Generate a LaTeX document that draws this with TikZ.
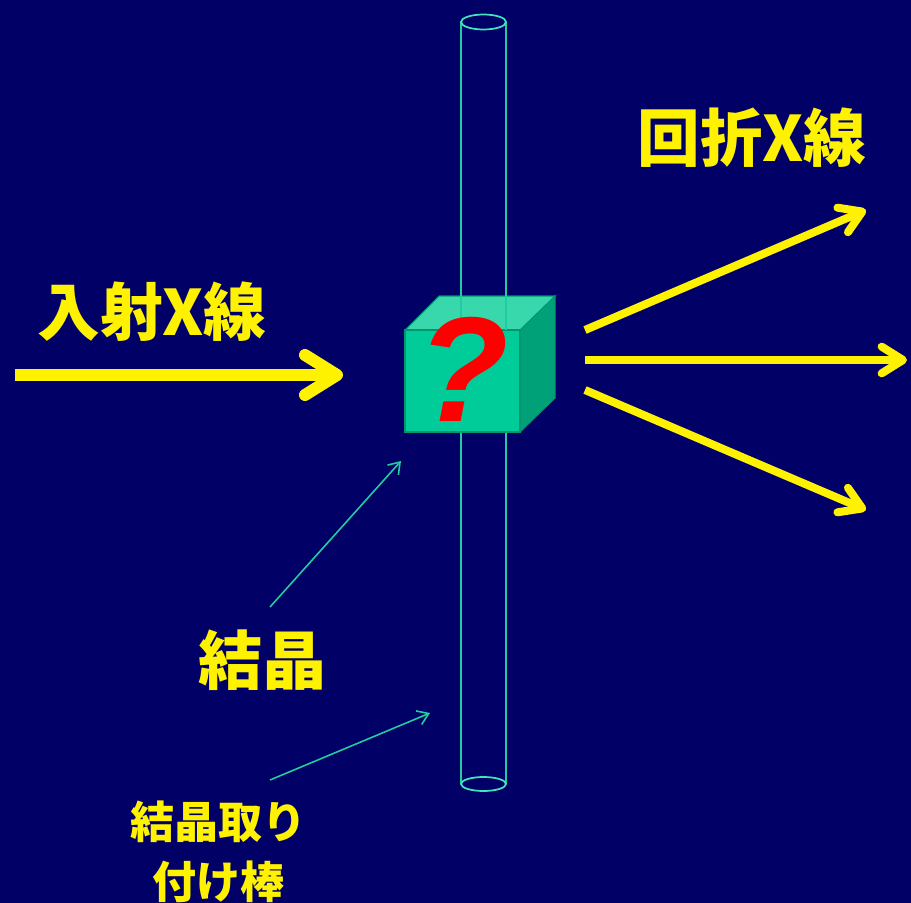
\documentclass[tikz,border=0pt]{standalone}
\usepackage{fontspec}
\setmainfont{Liberation Sans}
\newfontfamily\jpfont{Noto Sans CJK JP}
\usepackage{xcolor}
\usetikzlibrary{arrows.meta}

\definecolor{navy}{RGB}{0,0,102}
\definecolor{rodline}{RGB}{32,204,160}
\definecolor{rodrim}{RGB}{64,228,190}
\definecolor{cubefront}{RGB}{0,204,153}
\definecolor{cubetop}{RGB}{56,216,172}
\definecolor{cubeside}{RGB}{0,160,120}
\definecolor{cubeedge}{RGB}{0,150,112}

\begin{document}
\begin{tikzpicture}[
    x=0.75pt, y=-0.75pt,
    big/.style={text=yellow, font=\jpfont\bfseries\fontsize{47}{50}\selectfont, inner sep=0pt},
    small/.style={text=yellow, font=\jpfont\bfseries\fontsize{33}{45}\selectfont, inner sep=0pt, align=center},
    beam/.style={yellow, line width=9pt, -{Straight Barb[length=24pt, width=30pt, round]}},
    diff/.style={yellow, line width=6pt, -{Straight Barb[length=16pt, width=20pt, round]}},
    pointer/.style={rodline, line width=1.2pt, -{Straight Barb[length=8pt, width=11pt]}},
    rod/.style={rodline, line width=1.1pt},
    rim/.style={rodrim, line width=1.3pt}
]
    \useasboundingbox (0,0) rectangle (911,903);
    \fill[navy] (0,0) rectangle (911,903);

    % mounting rod, lower part
    \draw[rod] (461,432) -- (461,784);
    \draw[rod] (506,432) -- (506,784);
    \draw[rim] (483.5,784) ellipse [x radius=22.5, y radius=7];

    % crystal
    \filldraw[fill=cubeside, draw=cubeedge, line width=0.8pt] (520,330) -- (555,296) -- (555,398) -- (520,432) -- cycle;
    \filldraw[fill=cubetop, draw=cubeedge, line width=0.8pt] (405,330) -- (439,296) -- (555,296) -- (520,330) -- cycle;
    \filldraw[fill=cubefront, draw=cubeedge, line width=0.8pt] (405,330) rectangle (520,432);

    % mounting rod, upper part
    \draw[rod] (461,22) -- (461,330);
    \draw[rod] (506,22) -- (506,330);
    \draw[rim] (483.5,22) ellipse [x radius=22.5, y radius=7.5];

    \node[text=red, font=\bfseries\itshape\fontsize{112}{112}\selectfont, inner sep=0pt] (qmark) at (463,369) {?};

    % beams
    \node[big] (inlabel) at (152,312) {入射X線};
    \node[big] (outlabel) at (752,138) {回折X線};
    \coordinate (beamin) at (15,375);
    \coordinate (beamhit) at (343,375);
    \draw[beam] (beamin) -- (beamhit);
    \foreach \i/\sy/\ex/\ey in {1/330/866/210, 2/360/907/360, 3/390/866/510} {
        \coordinate (dsrc\i) at (585,\sy);
        \coordinate (dend\i) at (\ex,\ey);
        \draw[diff] (dsrc\i) -- (dend\i);
    }

    % labels
    \node[big, font=\jpfont\bfseries\fontsize{48}{50}\selectfont] (xtal) at (262,660) {結晶};
    \node[small] (mount) at (218,852) {結晶取り\\付け棒};
    \coordinate (xtaltail) at (270,607);
    \coordinate (xtaltip) at (401,461);
    \coordinate (mounttail) at (270,780);
    \coordinate (mounttip) at (430,713);
    \draw[pointer] (xtaltail) -- (xtaltip);
    \draw[pointer] (mounttail) -- (mounttip);
\end{tikzpicture}
\end{document}
